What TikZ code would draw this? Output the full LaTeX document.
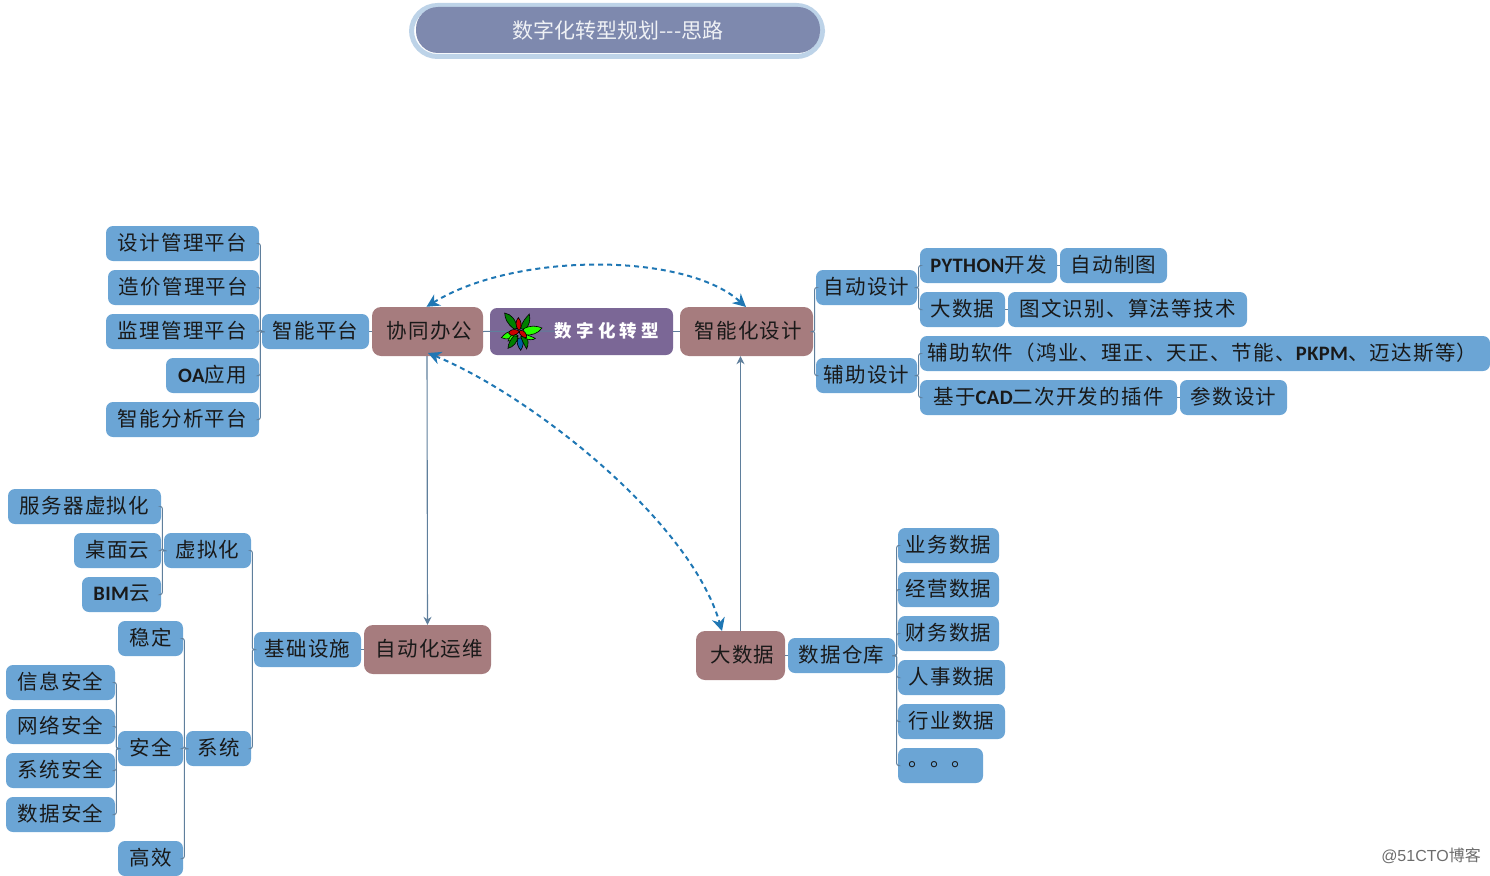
\documentclass[tikz,border=0pt]{standalone}
\usepackage{fontspec}
\setmainfont{Noto Sans CJK SC}[LetterSpace=6]
\newfontfamily\latf{Carlito}[BoldFont={Carlito Bold},LetterSpace=2]
\newfontfamily\plainf{Noto Sans CJK SC}
\newfontfamily\widef{Noto Sans CJK SC}[LetterSpace=24]
\newfontfamily\markf{Liberation Sans}
\newcommand{\lat}[1]{{\latf\bfseries #1}}
\newcommand{\corex}{\hspace*{4pt}}
\usetikzlibrary{arrows.meta,calc}
\definecolor{blueb}{HTML}{6BA5D5}
\definecolor{brownb}{HTML}{A67C7E}
\definecolor{purpb}{HTML}{7B6796}
\definecolor{titlef}{HTML}{7E89AE}
\definecolor{titler}{HTML}{BDD3E8}
\definecolor{linkc}{HTML}{5F7F9C}
\definecolor{dashc}{HTML}{1F77B4}
\tikzset{
 x=1pt,y=-1pt,
 bx/.style={rounded corners=7pt,inner sep=0pt,font=\fontsize{20.5}{24}\selectfont,text=black!90},
 leaf/.style={bx,fill=blueb},
 core/.style={bx,fill=brownb,rounded corners=9pt},
 tree/.style={draw=linkc,line width=1pt,rounded corners=2pt},
 thin arrow/.style={draw=linkc,line width=1.1pt,-{Stealth[length=8pt,width=8pt]}},
 dash link/.style={draw=dashc,line width=2pt,dash pattern=on 5pt off 4pt,{Stealth[length=13pt,width=13pt]}-{Stealth[length=13pt,width=13pt]}},
 petal/.style={draw=black,line width=0.6pt}
}
% name, x0, y0, x1, y1, style, text
\newcommand{\bx}[7]{\node[#6,minimum width=#4pt-#2pt,minimum height=#5pt-#3pt] (#1) at ({(#2+#4)/2},{(#3+#5)/2}) {\raisebox{4pt}{#7}};}
\begin{document}
\begin{tikzpicture}
\useasboundingbox (0,0) rectangle (1490,875);
\begin{scope}
\clip (0,0) rectangle (1490,875);
% title
\node[draw=titler,line width=5pt,fill=white,rounded corners=26pt,minimum width=411pt,minimum height=51pt,inner sep=0pt] (titleouter) at (617,31) {};
\node[fill=titlef,rounded corners=22pt,minimum width=404pt,minimum height=46pt,inner sep=0pt,text=white!88!titlef,font=\fontsize{21}{24}\selectfont] (title) at (618,30) {\plainf 数字化转型规划---思路};
% left upper
\bx{a1}{106}{226}{259}{261}{leaf}{设计管理平台}
\bx{a2}{108}{270}{259}{305}{leaf}{造价管理平台}
\bx{a3}{106}{314}{259}{349}{leaf}{监理管理平台}
\bx{a4}{166}{358}{259}{393}{leaf}{\lat{OA}应用}
\bx{a5}{106}{402}{259}{437}{leaf}{智能分析平台}
\bx{pf}{262}{314}{369}{349}{leaf}{智能平台}
\bx{xt}{372}{307}{483}{356}{core}{\corex 协同办公}
\bx{ctr}{490}{308}{673}{355}{bx,fill=purpb}{}
\bx{zn}{680}{307}{813}{356}{core}{\corex 智能化设计}
\node[inner sep=0pt,text=white,font=\fontsize{17.5}{18}\selectfont\widef\bfseries] (ctrt) at (607,331) {数字化转型};
% right upper
\bx{zd}{816}{270}{917}{305}{leaf}{自动设计}
\bx{fz}{816}{358}{917}{393}{leaf}{辅助设计}
\bx{py}{920}{248}{1057}{283}{leaf}{\lat{PYTHON}开发}
\bx{zt}{1060}{248}{1167}{283}{leaf}{自动制图}
\bx{ds}{920}{292}{1005}{327}{leaf}{大数据}
\bx{tw}{1008}{292}{1247}{327}{leaf}{图文识别、算法等技术}
\bx{rj}{920}{336}{1490}{371}{leaf}{辅助软件（鸿业、理正、天正、节能、\lat{PKPM}、迈达斯等）\hspace*{5pt}}
\bx{cad}{920}{380}{1177}{415}{leaf}{基于\lat{CAD}二次开发的插件}
\bx{cs}{1180}{380}{1287}{415}{leaf}{参数设计}
% left lower
\bx{b1}{8}{489}{161}{524}{leaf}{服务器虚拟化}
\bx{b2}{74}{533}{161}{568}{leaf}{桌面云}
\bx{b3}{82}{577}{161}{612}{leaf}{\lat{BIM}云}
\bx{xn}{164}{533}{251}{568}{leaf}{虚拟化}
\bx{wd}{118}{621}{183}{656}{leaf}{稳定}
\bx{s1}{6}{665}{115}{700}{leaf}{信息安全}
\bx{s2}{6}{709}{115}{744}{leaf}{网络安全}
\bx{s3}{6}{753}{115}{788}{leaf}{系统安全}
\bx{s4}{6}{797}{115}{832}{leaf}{数据安全}
\bx{aq}{118}{731}{183}{766}{leaf}{安全}
\bx{gx}{118}{841}{183}{876}{leaf}{高效}
\bx{sy}{186}{731}{251}{766}{leaf}{系统}
\bx{jc}{254}{632}{361}{667}{leaf}{基础设施}
\bx{yw}{364}{625}{491}{674}{core}{\corex 自动化运维}
% lower right
\bx{dsj}{696}{631}{785}{680}{core}{\corex 大数据}
\bx{ck}{788}{638}{895}{673}{leaf}{数据仓库}
\bx{d1}{898}{528}{999}{563}{leaf}{业务数据}
\bx{d2}{898}{572}{999}{607}{leaf}{经营数据}
\bx{d3}{898}{616}{999}{651}{leaf}{财务数据}
\bx{d4}{898}{660}{1005}{695}{leaf}{人事数据}
\bx{d5}{898}{704}{1005}{739}{leaf}{行业数据}
\bx{d6}{898}{748}{983}{783}{leaf}{。。。}
\end{scope}
% tree connectors
\foreach \c in {a1,a2,a3,a4,a5} \draw[tree] (\c.east) -| ([xshift=-1.5pt]pf.west) -- (pf.west);
\foreach \c in {b1,b2,b3} \draw[tree] (\c.east) -| ([xshift=-1.5pt]xn.west) -- (xn.west);
\foreach \c in {xn,sy} \draw[tree] (\c.east) -| ([xshift=-1.5pt]jc.west) -- (jc.west);
\foreach \c in {wd,aq,gx} \draw[tree] (\c.east) -| ([xshift=-1.5pt]sy.west) -- (sy.west);
\foreach \c in {s1,s2,s3,s4} \draw[tree] (\c.east) -| ([xshift=-1.5pt]aq.west) -- (aq.west);
\foreach \c in {zd,fz} \draw[tree] (zn.east) -- ([xshift=1.5pt]zn.east) |- (\c.west);
\foreach \c in {py,ds} \draw[tree] (zd.east) -- ([xshift=1.5pt]zd.east) |- (\c.west);
\foreach \c in {rj,cad} \draw[tree] (fz.east) -- ([xshift=1.5pt]fz.east) |- (\c.west);
\foreach \c in {d1,d2,d3,d4,d5,d6} \draw[tree] (ck.east) -- ([xshift=1.5pt]ck.east) |- (\c.west);
\draw[tree] (pf.east) -- (xt.west);
\draw[tree] (xt.east) -- (ctrt.west);
\draw[tree] (ctr.east) -- (zn.west);
\draw[tree] (py.east) -- (zt.west);
\draw[tree] (ds.east) -- (tw.west);
\draw[tree] (cad.east) -- (cs.west);
\draw[tree] (jc.east) -- (yw.west);
\draw[tree] (dsj.east) -- (ck.west);
% arrows
\draw[thin arrow] ([xshift=-0.5pt]xt.south) -- ([xshift=0pt]yw.north);
\draw[thin arrow] (dsj.north) -- (dsj.north |- zn.south);
\draw[dash link] ([xshift=-1pt]xt.north) .. controls (515,252) and (685,252) .. (746,307);
\draw[dash link] (428,353) .. controls (530,395) and (690,520) .. (722,631);
% logo
\begin{scope}[shift={(490,305)},x=0.3333pt,y=-0.3333pt]
\path[petal,fill=green!50!black] (72,72) .. controls (50,55) and (45,40) .. (44,24) .. controls (65,28) and (78,45) .. (82,70) -- cycle;
\path[petal,fill=green!50!black] (92,70) .. controls (96,50) and (108,38) .. (118,27) .. controls (122,45) and (118,62) .. (104,76) -- cycle;
\path[petal,fill=green!85!yellow] (100,72) .. controls (120,60) and (140,62) .. (156,69) .. controls (145,85) and (125,92) .. (105,90) -- cycle;
\path[petal,fill=green!85!yellow] (70,78) .. controls (55,78) and (45,85) .. (34,98) .. controls (50,105) and (65,102) .. (82,92) -- cycle;
\path[petal,fill=green!85!yellow] (72,88) .. controls (62,92) and (56,98) .. (54,108) .. controls (66,108) and (75,102) .. (84,92) -- cycle;
\path[petal,fill=teal!75!blue] (84,100) .. controls (78,112) and (84,126) .. (92,136) .. controls (100,125) and (102,112) .. (96,98) -- cycle;
\path[petal,fill=green!50!black] (72,92) .. controls (60,105) and (54,118) .. (54,130) .. controls (70,126) and (82,112) .. (84,95) -- cycle;
\path[petal,fill=green!50!black] (92,95) .. controls (98,110) and (104,122) .. (110,132) .. controls (116,118) and (116,104) .. (108,92) -- cycle;
\path[petal,fill=green!85!yellow] (104,88) .. controls (116,90) and (130,98) .. (136,100) .. controls (130,106) and (116,106) .. (102,98) -- cycle;
\path[petal,fill=red!80!black] (84,74) .. controls (76,62) and (76,48) .. (85,38) .. controls (94,48) and (96,62) .. (90,74) -- cycle;
\path[petal,fill=red!80!black] (84,76) .. controls (70,70) and (58,76) .. (56,84) .. controls (62,96) and (78,92) .. (88,80) -- cycle;
\path[petal,fill=red!80!black] (90,76) .. controls (102,74) and (112,88) .. (110,98) .. controls (98,98) and (88,90) .. (88,80) -- cycle;
\end{scope}
\node[inner sep=0pt,text=gray!85!black,font=\fontsize{16}{19}\selectfont\markf] (wm) at (1431,856) {@51CTO{\plainf 博客}};
\end{tikzpicture}
\end{document}
